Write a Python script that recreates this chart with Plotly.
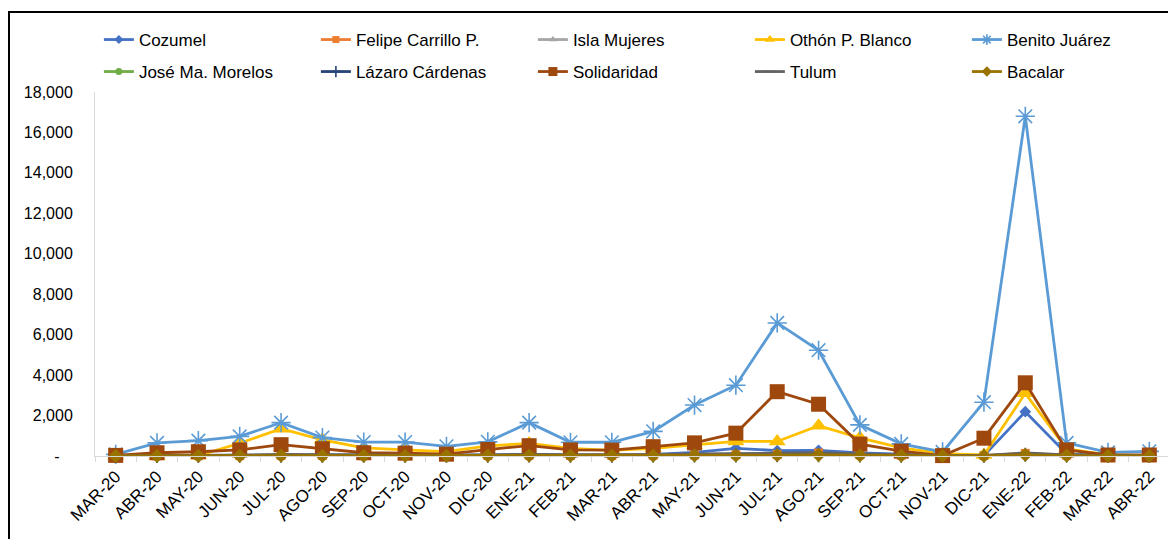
import plotly.graph_objects as go

months = ["MAR-20", "ABR-20", "MAY-20", "JUN-20", "JUL-20", "AGO-20", "SEP-20", "OCT-20", "NOV-20",
          "DIC-20", "ENE-21", "FEB-21", "MAR-21", "ABR-21", "MAY-21", "JUN-21", "JUL-21", "AGO-21",
          "SEP-21", "OCT-21", "NOV-21", "DIC-21", "ENE-22", "FEB-22", "MAR-22", "ABR-22"]

cozumel = [20, 30, 40, 60, 80, 60, 50, 50, 40, 60, 80, 60, 60, 80, 180, 380, 270, 280, 150, 90, 30, 20, 2190, 100, 30, 30]
felipe = [10, 10, 15, 20, 30, 25, 20, 20, 15, 25, 40, 30, 30, 40, 50, 60, 80, 150, 60, 40, 10, 20, 130, 40, 15, 15]
isla = [10, 10, 15, 20, 30, 30, 25, 25, 20, 30, 40, 30, 30, 40, 50, 60, 70, 80, 50, 30, 10, 20, 100, 40, 10, 10]
othon = [0, 0, 20, 630, 1350, 800, 400, 300, 220, 500, 620, 380, 280, 380, 550, 720, 720, 1500, 900, 400, 120, 50, 3100, 350, 50, 20]
benito = [80, 650, 760, 970, 1650, 910, 690, 690, 480, 700, 1650, 680, 680, 1220, 2520, 3500, 6580, 5230, 1540, 600, 200, 2660, 16800, 650, 180, 230]
jose = [5, 5, 10, 15, 20, 20, 15, 15, 10, 20, 30, 20, 20, 30, 40, 40, 50, 60, 40, 20, 5, 10, 90, 30, 5, 5]
lazaro = [5, 5, 5, 10, 15, 15, 10, 10, 10, 15, 20, 15, 15, 20, 30, 30, 40, 40, 30, 15, 5, 10, 60, 20, 5, 5]
solidaridad = [30, 160, 210, 300, 560, 360, 160, 140, 90, 320, 510, 300, 290, 460, 650, 1130, 3180, 2560, 590, 240, 20, 880, 3620, 300, 50, 50]
tulum = [10, 15, 20, 40, 80, 60, 40, 40, 30, 50, 80, 50, 50, 70, 100, 120, 150, 160, 100, 60, 15, 30, 150, 60, 15, 15]
bacalar = [5, 5, 5, 10, 15, 10, 10, 10, 10, 15, 20, 15, 15, 20, 30, 30, 40, 50, 30, 20, 5, 10, 60, 20, 5, 5]

y_tickvals = [0, 2000, 4000, 6000, 8000, 10000, 12000, 14000, 16000, 18000]
y_ticktext = ["-\u00a0\u00a0\u00a0", "2,000", "4,000", "6,000", "8,000", "10,000", "12,000", "14,000", "16,000", "18,000"]

series = [
    ("Cozumel", cozumel, "#4472C4", "diamond", 9, 7, "legend"),
    ("Felipe Carrillo P.", felipe, "#ED7D31", "square", 9, 7, "legend"),
    ("Isla Mujeres", isla, "#A5A5A5", "triangle-up", 9, 7, "legend"),
    ("Othón P. Blanco", othon, "#FFC000", "triangle-up", 15, 9, "legend"),
    ("Benito Juárez", benito, "#5B9BD5", "asterisk-open", 16, 9, "legend"),
    ("José Ma. Morelos", jose, "#70AD47", "circle", 9, 7, "legend2"),
    ("Lázaro Cárdenas", lazaro, "#264478", "cross-thin-open", 10, 8, "legend2"),
    ("Solidaridad", solidaridad, "#9E480E", "square", 15, 9, "legend2"),
    ("Tulum", tulum, "#636363", "line-ew-open", 10, 8, "legend2"),
    ("Bacalar", bacalar, "#997300", "diamond", 11, 8, "legend2"),
]

fig = go.Figure()
for name, vals, color, sym, size, lsize, leg in series:
    mk = dict(symbol=sym, size=size, color=color)
    if sym.endswith("open"):
        mk["line"] = dict(color=color, width=1.6)
    fig.add_trace(go.Scatter(
        x=months, y=vals, name=name, mode="lines+markers",
        line=dict(color=color, width=2.8), marker=mk,
        showlegend=False, cliponaxis=False,
    ))
for name, vals, color, sym, size, lsize, leg in series:
    mk = dict(symbol=sym, size=lsize, color=color)
    if sym.endswith("open"):
        mk["line"] = dict(color=color, width=1.6)
    fig.add_trace(go.Scatter(
        x=[months[0]], y=[None], name=name, mode="lines+markers",
        line=dict(color=color, width=2.8), marker=mk,
        showlegend=True, legend=leg,
    ))

# The page body has an 8px default margin, so figure coordinates are screen - 8.
W, H = 1168, 531
plot_l, plot_r, plot_t, plot_b = 87, 1162, 84, 448
pw, ph = plot_r - plot_l, plot_b - plot_t

font = "Arial, Liberation Sans, sans-serif"
legend_common = dict(orientation="h", entrywidth=168, entrywidthmode="pixels",
                     font=dict(family=font, size=17, color="#000000"),
                     bgcolor="rgba(0,0,0,0)", xanchor="left", yanchor="middle",
                     itemwidth=30, tracegroupgap=0, indentation=4)

fig.update_layout(
    width=W, height=H,
    margin=dict(l=plot_l, r=W - plot_r, t=plot_t, b=H - plot_b, autoexpand=False),
    paper_bgcolor="white", plot_bgcolor="white",
    font=dict(family=font, size=16, color="#000000"),
    legend=dict(x=-0.0001, y=(plot_b - 32) / ph, **legend_common),
    legend2=dict(x=-0.0001, y=(plot_b - 64) / ph, **legend_common),
    xaxis=dict(
        type="category", tickangle=-45, tickfont=dict(size=17),
        showline=True, linecolor="#D9D9D9", linewidth=1,
        ticks="outside", ticklen=5, tickcolor="#D9D9D9", tickson="boundaries",
        ticklabelstandoff=3,
        showgrid=False, zeroline=False, range=[-0.5, len(months) - 0.5],
    ),
    yaxis=dict(
        range=[0, 18000], tickvals=y_tickvals, ticktext=y_ticktext,
        tickfont=dict(size=16), showgrid=False, zeroline=False,
        showline=True, linecolor="#D9D9D9", linewidth=1,
        ticks="", ticklabelstandoff=18,
    ),
    shapes=[dict(type="rect", xref="paper", yref="paper",
                 x0=(1 - plot_l) / pw, x1=1.1, y0=-0.5, y1=(plot_b - 4) / ph,
                 line=dict(color="#000000", width=2), fillcolor="rgba(0,0,0,0)",
                 layer="below")],
)

fig.write_html("out.html")
